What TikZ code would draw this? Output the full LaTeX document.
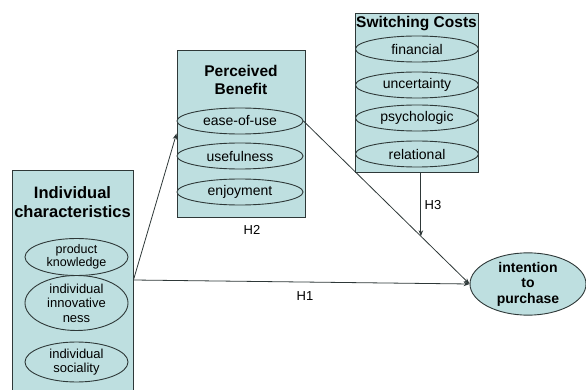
\documentclass[tikz,border=0pt]{standalone}
\usepackage{fontspec}
\setmainfont{Liberation Sans}
\usetikzlibrary{shapes.geometric,arrows.meta}
\definecolor{boxfill}{HTML}{BEDFE0}
\definecolor{edge}{HTML}{2E3838}
\tikzset{
  panel/.style={draw=edge, line width=0.9pt, fill=boxfill, rectangle, inner sep=0pt},
  oval/.style={draw=edge, line width=0.9pt, fill=boxfill, ellipse, inner sep=0pt, align=center, font=\fontsize{14}{16}\selectfont},
  ttl/.style={align=center, font=\bfseries\fontsize{15.5}{18}\selectfont},
  arr/.style={draw=edge, line width=0.8pt, -{Stealth[length=6pt,width=4.5pt]}},
  hlab/.style={font=\fontsize{13}{15}\selectfont}
}
\begin{document}
\begin{tikzpicture}[x=1pt,y=-1pt]
\useasboundingbox (0,0) rectangle (586,390);
\clip (0,0) rectangle (586,390);
% Individual characteristics
\node[panel, minimum width=121pt, minimum height=220pt] (ic) at (72.5,280) {};
\node[ttl, font=\bfseries\fontsize{16.5}{19}\selectfont] (ict) at (72.5,202) {Individual\\characteristics};
\node[oval, minimum width=103pt, minimum height=37pt, font=\fontsize{12.5}{13.5}\selectfont] (pk) at (76.5,257) {product\\knowledge};
\node[oval, minimum width=103pt, minimum height=55pt, font=\fontsize{13}{14.5}\selectfont] (inn) at (76.5,303) {individual\\innovative\\ness};
\node[oval, minimum width=103pt, minimum height=40pt, font=\fontsize{13}{14.5}\selectfont] (soc) at (76.5,362) {individual\\sociality};
% Perceived Benefit
\node[panel, minimum width=128pt, minimum height=167pt] (pb) at (241,133.5) {};
\node[ttl] (pbt) at (241,80) {Perceived\\Benefit};
\node[oval, minimum width=126pt, minimum height=26pt] (eou) at (240,121) {ease-of-use};
\node[oval, minimum width=126pt, minimum height=26pt] (use) at (240,156) {usefulness};
\node[oval, minimum width=126pt, minimum height=26pt] (enj) at (240,192) {enjoyment};
% Switching Costs
\node[panel, minimum width=123pt, minimum height=159pt] (sc) at (416.5,92.5) {};
\node[ttl] (sct) at (416.5,24) {Switching Costs};
\node[oval, minimum width=123pt, minimum height=26pt] (fin) at (417,49) {financial};
\node[oval, minimum width=123pt, minimum height=26pt] (unc) at (417,85) {uncertainty};
\node[oval, minimum width=123pt, minimum height=26pt] (psy) at (417,118) {psychologic};
\node[oval, minimum width=123pt, minimum height=26pt] (rel) at (417,154) {relational};
% Intention
\node[oval, minimum width=116pt, minimum height=57pt, font=\bfseries\fontsize{14}{15.5}\selectfont] (int) at (528,284) {intention\\to\\purchase};
% connectors
\draw[arr] (ic.east) -- (pb.west);
\draw[arr] (ic.east) -- (int.west);
\draw[arr] (eou.east) -- (int.west) coordinate[pos=0.707] (h3end);
\draw[arr] (h3end |- sc.south) -- (h3end);
% labels
\node[hlab] (h1) at (305,296) {H1};
\node[hlab] (h2) at (252,230) {H2};
\node[hlab] (h3) at (433,205) {H3};
\end{tikzpicture}
\end{document}
